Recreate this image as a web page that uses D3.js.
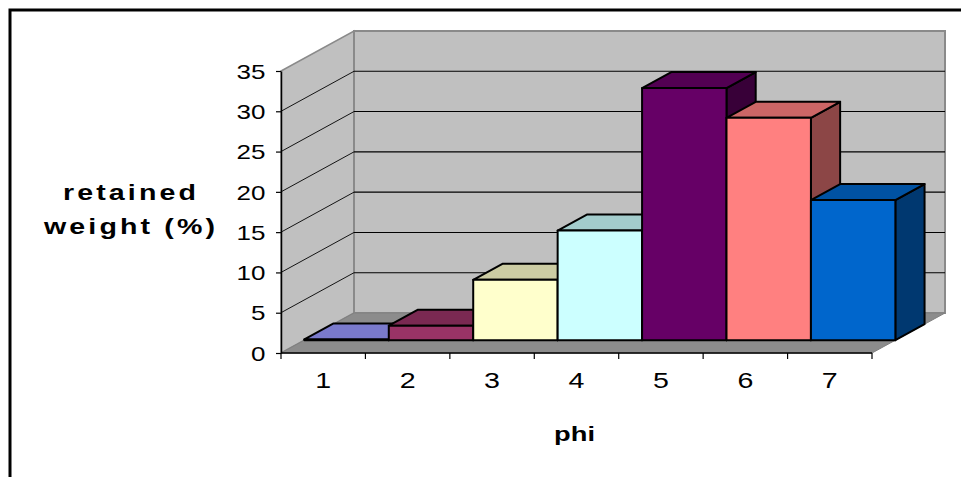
<!DOCTYPE html>
<html>
<head>
<meta charset="utf-8">
<script src="https://cdn.jsdelivr.net/npm/d3@7"></script>
<style>
  html, body { margin: 0; padding: 0; background: #fff; }
  svg { display: block; }
  text { font-family: "Liberation Sans", Arial, sans-serif; fill: #000; }
</style>
</head>
<body>
<svg id="chart" width="961" height="477"></svg>
<script>
// Retained weight per phi class
const categories = ["1", "2", "3", "4", "5", "6", "7"];
const values = [0.1, 1.8, 7.5, 13.6, 31.3, 27.6, 17.4];
const barColors = ["#9999FF", "#993366", "#FFFFCC", "#CCFFFF", "#660066", "#FF8080", "#0066CC"];
const yTicks = [0, 5, 10, 15, 20, 25, 30, 35];
const yTitle = ["retained", "weight (%)"];
const xTitle = "phi";

const svg = d3.select("#chart");

// Oblique 3D projection: depth runs up and to the right
const DX = 73, DY = 40;          // offset of the back wall
const F0 = 0.32, F1 = 0.72;      // depth span of each column
const proj = (px, py, f) => [px + DX * f, py - DY * f];

const x = d3.scaleBand().domain(categories).range([281, 872]).padding(0);
const y = d3.scaleLinear().domain([0, 35]).range([353, 71]);

const poly = pts => pts.map(p => p.join(",")).join(" ");
const shade = (c, k) => { const r = d3.rgb(c); return d3.rgb(r.r * k, r.g * k, r.b * k).formatHex(); };

// Outer frame
svg.append("rect").attr("x", 10).attr("y", 10).attr("width", 1000).attr("height", 1000)
  .attr("fill", "none").attr("stroke", "#000").attr("stroke-width", 3);

const x0 = x.range()[0], x1 = x.range()[1];
const yTop = y(35), yBase = y(0);

// Side wall
svg.append("polygon")
  .attr("points", poly([[x0, yBase], [x0, yTop], proj(x0, yTop, 1), proj(x0, yBase, 1)]))
  .attr("fill", "#c0c0c0").attr("stroke", "#8a8a8a").attr("stroke-width", 1.5);

// Back wall
const bl = proj(x0, yTop, 1), br = proj(x1, yBase, 1);
svg.append("rect")
  .attr("x", bl[0]).attr("y", bl[1]).attr("width", br[0] - bl[0]).attr("height", br[1] - bl[1])
  .attr("fill", "#c0c0c0").attr("stroke", "#8a8a8a").attr("stroke-width", 2);

// Gridlines on side and back walls
const grid = yTicks.filter(v => v > 0 && v < 35);
svg.append("g").selectAll("line.side").data(grid).join("line")
  .attr("x1", x0).attr("y1", d => y(d))
  .attr("x2", d => proj(x0, y(d), 1)[0]).attr("y2", d => proj(x0, y(d), 1)[1])
  .attr("stroke", "#000").attr("stroke-width", 0.9);
svg.append("g").selectAll("line.back").data(grid).join("line")
  .attr("x1", d => proj(x0, y(d), 1)[0]).attr("y1", d => proj(x0, y(d), 1)[1])
  .attr("x2", d => proj(x1, y(d), 1)[0]).attr("y2", d => proj(x1, y(d), 1)[1])
  .attr("stroke", "#000").attr("stroke-width", 1.1);

// Floor
svg.append("polygon")
  .attr("points", poly([[x0, yBase], proj(x0, yBase, 1), proj(x1, yBase, 1), [x1, yBase]]))
  .attr("fill", "#8c8c8c").attr("stroke", "#808080").attr("stroke-width", 1);

// Columns, drawn left to right so each one covers its neighbour's side face
const bw = x.bandwidth();
const ddx = DX * (F1 - F0), ddy = DY * (F1 - F0);
const bars = svg.append("g").attr("stroke", "#000").attr("stroke-width", 2).attr("stroke-linejoin", "round");
categories.forEach((c, i) => {
  const [fx0, fyT] = proj(x(c), y(values[i]), F0);
  const [fx1, fyB] = proj(x(c) + bw, y(0), F0);
  const col = barColors[i];
  const g = bars.append("g");
  g.append("polygon")
    .attr("points", poly([[fx1, fyT], [fx1 + ddx, fyT - ddy], [fx1 + ddx, fyB - ddy], [fx1, fyB]]))
    .attr("fill", shade(col, 0.55));
  g.append("polygon")
    .attr("points", poly([[fx0, fyT], [fx0 + ddx, fyT - ddy], [fx1 + ddx, fyT - ddy], [fx1, fyT]]))
    .attr("fill", shade(col, 0.8));
  g.append("rect")
    .attr("x", fx0).attr("y", fyT).attr("width", fx1 - fx0).attr("height", Math.max(0, fyB - fyT))
    .attr("fill", col);
});

// Value axis
const yAxis = svg.append("g").attr("transform", `translate(${x0},0)`)
  .call(d3.axisLeft(y).tickValues(yTicks).tickSize(5).tickPadding(7).tickSizeOuter(0));
yAxis.select(".domain").attr("stroke", "#000").attr("stroke-width", 1.5);
yAxis.selectAll(".tick line").attr("stroke", "#000").attr("stroke-width", 1.2);
yAxis.selectAll(".tick text")
  .attr("font-size", 20).attr("font-family", "Liberation Sans, Arial, sans-serif")
  .attr("dy", "0.36em").attr("transform", "scale(1.3,1)");

// Category axis: boundary ticks along the floor's front edge, labels centred in each band
const bounds = categories.map(c => x(c)).concat([x1]);
svg.append("line").attr("x1", x0).attr("x2", x1).attr("y1", yBase).attr("y2", yBase)
  .attr("stroke", "#000").attr("stroke-width", 1.5);
svg.append("g").selectAll("line").data(bounds).join("line")
  .attr("x1", d => d).attr("x2", d => d).attr("y1", yBase).attr("y2", yBase + 6)
  .attr("stroke", "#000").attr("stroke-width", 1.2);
svg.append("g").selectAll("text").data(categories).join("text")
  .attr("transform", d => `translate(${x(d) + bw / 2},388) scale(1.3,1)`)
  .attr("text-anchor", "middle").attr("font-size", 22).text(d => d);

// Axis titles
svg.append("text").attr("transform", `translate(${(x0 + x1) / 2 - 2},441) scale(1.3,1)`)
  .attr("text-anchor", "middle").attr("font-size", 21).attr("font-weight", "bold").text(xTitle);
svg.append("g").selectAll("text").data(yTitle).join("text")
  .attr("transform", (d, i) => `translate(${131},${200 + i * 34}) scale(1.3,1)`)
  .attr("text-anchor", "middle").attr("font-size", 22).attr("font-weight", "bold")
  .attr("letter-spacing", 2.4).text(d => d);
</script>
</body>
</html>
